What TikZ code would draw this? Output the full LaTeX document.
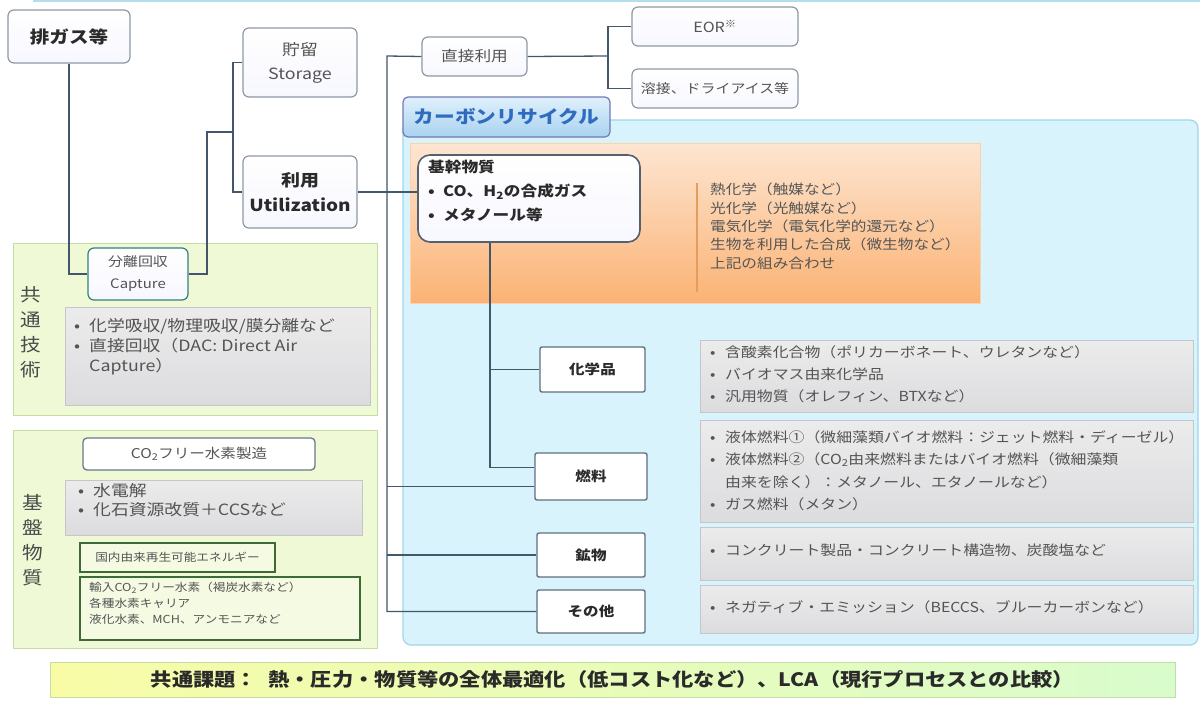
\documentclass[tikz,border=0pt]{standalone}
\usepackage{fontspec}
\setmainfont{Noto Sans CJK JP}[FakeStretch=1.15]
\usetikzlibrary{positioning,calc}
\definecolor{conn}{HTML}{44566B}
\definecolor{boxline}{HTML}{8E99A3}
\definecolor{graytxt}{HTML}{545454}
\definecolor{darktxt}{HTML}{2A2A2A}
\definecolor{cyanfill}{HTML}{D8F3FB}
\definecolor{cyanline}{HTML}{9FD6EA}
\definecolor{greenfill}{HTML}{EFF9D6}
\definecolor{greenline}{HTML}{C5DDA0}
\definecolor{panelfill}{HTML}{DCDCDE}
\definecolor{panelline}{HTML}{C4C6CA}
\definecolor{orangetop}{HTML}{FDE6D2}
\definecolor{orangebot}{HTML}{FBB273}
\definecolor{tabtop}{HTML}{E0F0FC}
\definecolor{tabbot}{HTML}{A9D2F0}
\definecolor{tabtxt}{HTML}{2F6CC0}
\definecolor{dkgreen}{HTML}{3E6B35}
\tikzset{
  conline/.style={draw=conn, line width=1.3pt},
  softbox/.style={draw=boxline, line width=1.2pt, rounded corners=6pt, top color=white, bottom color=white!92!blue!40!white, align=center, inner sep=0pt},
  itembox/.style={draw=conn!85, line width=1.4pt, rounded corners=2pt, fill=white, align=center, inner sep=0pt, font=\fontsize{13.5}{16}\selectfont\bfseries, text=darktxt},
  panel/.style={draw=panelline, line width=0.8pt, top color=panelfill!55!white, bottom color=panelfill},
  greenpanel/.style={draw=greenline, line width=1pt, fill=greenfill},
  ptext/.style={anchor=north west, inner sep=0pt, align=left, text=graytxt},
}
\newcommand{\bul}{\makebox[15pt][l]{•}}
\begin{document}
\begin{tikzpicture}[x=1pt,y=-1pt]
\useasboundingbox (0,0) rectangle (1200,702);
\fill[white] (0,0) rectangle (1200,702);
% top strip
\fill[cyanline!80] (33,0) rectangle (1200,2);

% ===== carbon recycle region =====
\path[draw=cyanline, line width=1.2pt, fill=cyanfill, rounded corners=8pt] (403,120) rectangle (1198,645);
\node[draw=boxline!80!blue, line width=1.2pt, rounded corners=5pt, top color=tabtop, bottom color=tabbot, minimum width=207pt, minimum height=40pt, inner sep=0pt, font=\fontsize{18}{20}\selectfont\bfseries, text=tabtxt] (tab) at (506.5,117) {カーボンリサイクル};
\path[top color=orangetop, bottom color=orangebot, draw=orangebot!60!white, line width=0.6pt] (410,143) rectangle (980,303);
\draw[orangebot!60!brown, line width=1.2pt] (697,183) -- (697,292);
\node[ptext, text=darktxt!80, font=\fontsize{13.6}{18.3}\selectfont] (proc) at (710,183) {熱化学（触媒など）\\光化学（光触媒など）\\電気化学（電気化学的還元など）\\生物を利用した合成（微生物など）\\上記の組み合わせ};

% panels right
\path[panel] (700,340) rectangle (1193,412);
\path[panel] (700,420) rectangle (1193,522);
\path[panel] (700,527) rectangle (1193,580);
\path[panel] (700,585) rectangle (1193,633);
\node[ptext, font=\fontsize{13.8}{22}\selectfont] (chemtxt) at (710,345) {\bul 含酸素化合物（ポリカーボネート、ウレタンなど）\\\bul バイオマス由来化学品\\\bul 汎用物質（オレフィン、BTXなど）};
\node[ptext, font=\fontsize{13.8}{22.5}\selectfont] (fueltxt) at (710,430) {\bul 液体燃料①（微細藻類バイオ燃料：ジェット燃料・ディーゼル）\\\bul 液体燃料②（CO\textsubscript{2}由来燃料またはバイオ燃料（微細藻類\\\hspace*{15pt}由来を除く）：メタノール、エタノールなど）\\\bul ガス燃料（メタン）};
\node[ptext, font=\fontsize{13.8}{22}\selectfont] (mintxt) at (710,544) {\bul コンクリート製品・コンクリート構造物、炭酸塩など};
\node[ptext, font=\fontsize{13.8}{22}\selectfont] (othtxt) at (710,600) {\bul ネガティブ・エミッション（BECCS、ブルーカーボンなど）};

% ===== left green panels =====
\path[greenpanel] (13,243) rectangle (377,415);
\path[greenpanel] (13,430) rectangle (377,648);
\node[inner sep=0pt, align=center, font=\fontsize{18}{25}\selectfont, text=darktxt!85] (kyotsu) at (31,332) {共\\通\\技\\術};
\node[inner sep=0pt, align=center, font=\fontsize{18}{25}\selectfont, text=darktxt!85] (kiban) at (33,540) {基\\盤\\物\\質};
\path[panel] (65,307) rectangle (370,405);
\node[ptext, font=\fontsize{15.5}{20}\selectfont] (captxt) at (74,318) {\bul 化学吸収/物理吸収/膜分離など\\\bul 直接回収（DAC: Direct Air\\\hspace*{15pt}Capture）};
\path[panel] (65,480) rectangle (362,535);
\node[ptext, font=\fontsize{15.5}{19.5}\selectfont] (h2txt) at (78,483) {\bul 水電解\\\bul 化石資源改質＋CCSなど};
\node[draw=conn!80, line width=1.3pt, rounded corners=4pt, fill=white, minimum width=232pt, minimum height=32pt, inner sep=0pt, font=\fontsize{13.5}{16}\selectfont, text=graytxt] (h2) at (199,454) {CO\textsubscript{2}フリー水素製造};
\node[draw=dkgreen, line width=1.3pt, fill=greenfill!70!white, minimum width=195pt, minimum height=29pt, inner sep=0pt, font=\fontsize{11}{13}\selectfont, text=graytxt] (renew) at (177.5,557.5) {国内由来再生可能エネルギー};
\node[draw=dkgreen, line width=1.3pt, fill=greenfill!70!white, minimum width=280pt, minimum height=63pt, inner sep=0pt] (import) at (220,608.5) {};
\node[ptext, font=\fontsize{11}{16}\selectfont] (imptxt) at (89,582) {輸入CO\textsubscript{2}フリー水素（褐炭水素など）\\各種水素キャリア\\液化水素、MCH、アンモニアなど};

% ===== nodes =====
\node[softbox, minimum width=122pt, minimum height=53pt, font=\fontsize{17}{20}\selectfont\bfseries, text=darktxt] (exhaust) at (69,36.5) {排ガス等};
\node[softbox, draw=teal!60!gray, minimum width=100pt, minimum height=52pt, font=\fontsize{13}{22}\selectfont, text=graytxt] (capture) at (138,274) {分離回収\\Capture};
\node[softbox, minimum width=114pt, minimum height=69pt, font=\fontsize{15.5}{24}\selectfont, text=graytxt] (storage) at (300,62.5) {貯留\\Storage};
\node[softbox, minimum width=114pt, minimum height=72pt, font=\fontsize{16.5}{25}\selectfont\bfseries, text=darktxt] (util) at (300,192) {利用\\Utilization};
\node[softbox, minimum width=105pt, minimum height=39pt, font=\fontsize{14.5}{16}\selectfont, text=graytxt] (direct) at (474.5,56.5) {直接利用};
\node[softbox, minimum width=166pt, minimum height=39pt, font=\fontsize{14}{16}\selectfont, text=graytxt] (eor) at (715,26.5) {EOR\textsuperscript{※}};
\node[softbox, minimum width=166pt, minimum height=39pt, font=\fontsize{13}{15}\selectfont, text=graytxt] (weld) at (715,88.5) {溶接、ドライアイス等};
\node[draw=conn!75!gray, line width=1.6pt, rounded corners=12pt, top color=white, bottom color=white!90!blue!30!white, minimum width=222pt, minimum height=87pt, inner sep=0pt] (kikan) at (529,198.5) {};
\node[ptext, text=darktxt, font=\fontsize{14.5}{24}\selectfont\bfseries] (kikantxt) at (428,160) {基幹物質\\\bul CO、H\textsubscript{2}の合成ガス\\\bul メタノール等};
\node[itembox, minimum width=105pt, minimum height=45pt] (chem) at (592.5,369.5) {化学品};
\node[itembox, minimum width=112pt, minimum height=47pt] (fuel) at (591,476.5) {燃料};
\node[itembox, minimum width=108pt, minimum height=44pt] (mineral) at (591,555) {鉱物};
\node[itembox, minimum width=108pt, minimum height=43pt] (other) at (591,611.5) {その他};

% ===== banner =====
\node[draw=greenline, line width=1pt, left color=greenfill!60!yellow!70!white, right color=greenfill!80!green!60!white, minimum width=1125pt, minimum height=35pt, inner sep=0pt, font=\fontsize{18.5}{21}\selectfont\bfseries, text=darktxt] (banner) at (612.5,679.5) {共通課題：\hspace{0.6em}熱・圧力・物質等の全体最適化（低コスト化など）、LCA（現行プロセスとの比較）};

% ===== connectors =====
\coordinate (cj) at (207,132);
\coordinate (sb) at (233,132);
\coordinate (tr) at (387,56);
\coordinate (trb) at (387,611.5);
\coordinate (dj) at (608,56);
\coordinate (kx) at (490,0);
\draw[conline] (exhaust.south) |- (capture.west);
\draw[conline] (capture.east) -| (cj) -- (sb);
\draw[conline] (storage.west) -| (sb) |- (util.west);
\draw[conline] (util.east) -- (util.east -| kikan.west);
\draw[conline] (direct.west) -- (tr) -- (trb) -- (other.west);
\draw[conline] ([yshift=-10pt]fuel.west) -- ([yshift=-10pt]fuel.west -| tr);
\draw[conline] (mineral.west) -- (mineral.west -| tr);
\draw[conline] (kikan.south -| kx) |- ([yshift=9pt]fuel.west);
\draw[conline] (chem.west) -- (chem.west -| kx);
\draw[conline] (direct.east) -- (dj);
\draw[conline] (eor.west) -| (dj) |- (weld.west);
\end{tikzpicture}
\end{document}
